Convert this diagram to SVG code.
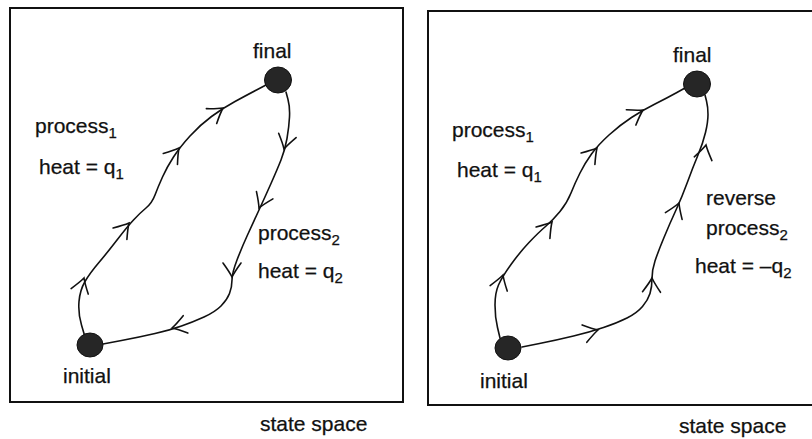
<svg xmlns="http://www.w3.org/2000/svg" xmlns:xlink="http://www.w3.org/1999/xlink" width="812" height="439" viewBox="0 0 812 439">
<style>
.frame{fill:none;stroke:#111;stroke-width:2}
.curve{fill:none;stroke:#111;stroke-width:1.6;stroke-linecap:round;stroke-linejoin:round}
.chev{fill:none;stroke:#111;stroke-width:1.6;stroke-linecap:round}
.blob{fill:#262626;stroke:#111;stroke-width:1}
text{font-family:"Liberation Sans",Arial,sans-serif;font-size:21px;fill:#111;stroke:#111;stroke-width:0.25}
.sub{font-size:15px}
</style>
<defs>
<path id="chev" class="chev" d="M-14,-9 Q-5,-2.5 0,0 Q-5,2.5 -14,9"/>
</defs>
<rect width="812" height="439" fill="#fff"/>
<g id="frames">
<rect class="frame" x="10" y="8" width="393" height="394"/>
<path class="frame" d="M812,11 L428,11 L428,405 L812,405"/>
</g>
<g id="connectors">
<path class="curve" d="M85,337 L81.5,325 Q78,313 79,301.5 Q80,290 85,281.5 Q90,273 98.5,263 Q107,253 117,240 Q127,227 133.5,220 Q140,213 146,208 Q152,203 155,195 Q158,187 162.5,177 Q167,167 173.5,157 Q180,147 190,136 Q200,125 211.5,116.5 Q223,108 235,101.5 Q247,95 256.5,90 L266,85"/>
<path class="curve" d="M286,92 L288,99.5 Q290,107 289.5,117 Q289,127 287,138.5 Q285,150 281,160 Q277,170 271,183.5 Q265,197 259,210 Q253,223 247.5,235 Q242,247 237,260 Q232,273 232,280 Q232,287 229.5,293.5 Q227,300 221,306 Q215,312 204,317 Q193,322 181.5,326 Q170,330 155,333.5 Q140,337 121.5,340.5 L103,344"/>
<use xlink:href="#chev" transform="translate(84,278) rotate(-72)"/>
<use xlink:href="#chev" transform="translate(129,223) rotate(-50)"/>
<use xlink:href="#chev" transform="translate(179,148) rotate(-52)"/>
<use xlink:href="#chev" transform="translate(223,108) rotate(-35)"/>
<use xlink:href="#chev" transform="translate(284,149) rotate(104)"/>
<use xlink:href="#chev" transform="translate(259,208) rotate(114)"/>
<use xlink:href="#chev" transform="translate(232,277) rotate(90)"/>
<use xlink:href="#chev" transform="translate(172,328) rotate(165)"/>
<path class="curve" d="M500,338 L497.5,327.5 Q495,317 495,305 Q495,293 498.5,285 Q502,277 511,264.5 Q520,252 529,242.5 Q538,233 545.5,226.5 Q553,220 560,211.5 Q567,203 571,193 Q575,183 580,173 Q585,163 591.5,154 Q598,145 609,135 Q620,125 631.5,117.5 Q643,110 655,104 Q667,98 676,93 L685,88"/>
<path class="curve" d="M522,347 L539.5,343.5 Q557,340 573.5,336 Q590,332 603.5,327.5 Q617,323 627,318 Q637,313 642.5,306.5 Q648,300 650,293.5 Q652,287 652,278.5 Q652,270 655,261 Q658,252 664,237.5 Q670,223 676,210 Q682,197 687.5,182 Q693,167 698,155 Q703,143 705.5,132.5 Q708,122 708,114.5 Q708,107 706.5,101 L705,95"/>
<use xlink:href="#chev" transform="translate(503,275) rotate(-72)"/>
<use xlink:href="#chev" transform="translate(552,222) rotate(-50)"/>
<use xlink:href="#chev" transform="translate(597,148) rotate(-50)"/>
<use xlink:href="#chev" transform="translate(643,110) rotate(-32)"/>
<use xlink:href="#chev" transform="translate(598,330) rotate(-15)"/>
<use xlink:href="#chev" transform="translate(652,278) rotate(-88)"/>
<use xlink:href="#chev" transform="translate(679,203) rotate(-68)"/>
<use xlink:href="#chev" transform="translate(706,145) rotate(-78)"/>
</g>
<g id="left-final"><ellipse class="blob" cx="278" cy="80" rx="13.5" ry="13"/><text x="253" y="58">final</text></g>
<g id="left-initial"><ellipse class="blob" cx="90" cy="345" rx="13" ry="12"/><text x="63" y="383">initial</text></g>
<g id="left-labels">
<text x="35" y="133">process<tspan class="sub" dy="5">1</tspan></text>
<text x="39" y="174">heat = q<tspan class="sub" dy="5">1</tspan></text>
<text x="258" y="240">process<tspan class="sub" dy="5">2</tspan></text>
<text x="258" y="278">heat = q<tspan class="sub" dy="5">2</tspan></text>
<text x="260" y="431">state space</text>
</g>
<g id="right-final"><ellipse class="blob" cx="697" cy="84" rx="13.5" ry="13"/><text x="673" y="62">final</text></g>
<g id="right-initial"><ellipse class="blob" cx="508" cy="348" rx="13" ry="12"/><text x="480" y="388">initial</text></g>
<g id="right-labels">
<text x="452" y="137">process<tspan class="sub" dy="5">1</tspan></text>
<text x="457" y="177">heat = q<tspan class="sub" dy="5">1</tspan></text>
<text x="706" y="205">reverse</text>
<text x="706" y="235">process<tspan class="sub" dy="5">2</tspan></text>
<text x="695" y="273">heat = –q<tspan class="sub" dy="5">2</tspan></text>
<text x="679" y="433">state space</text>
</g>
</svg>
